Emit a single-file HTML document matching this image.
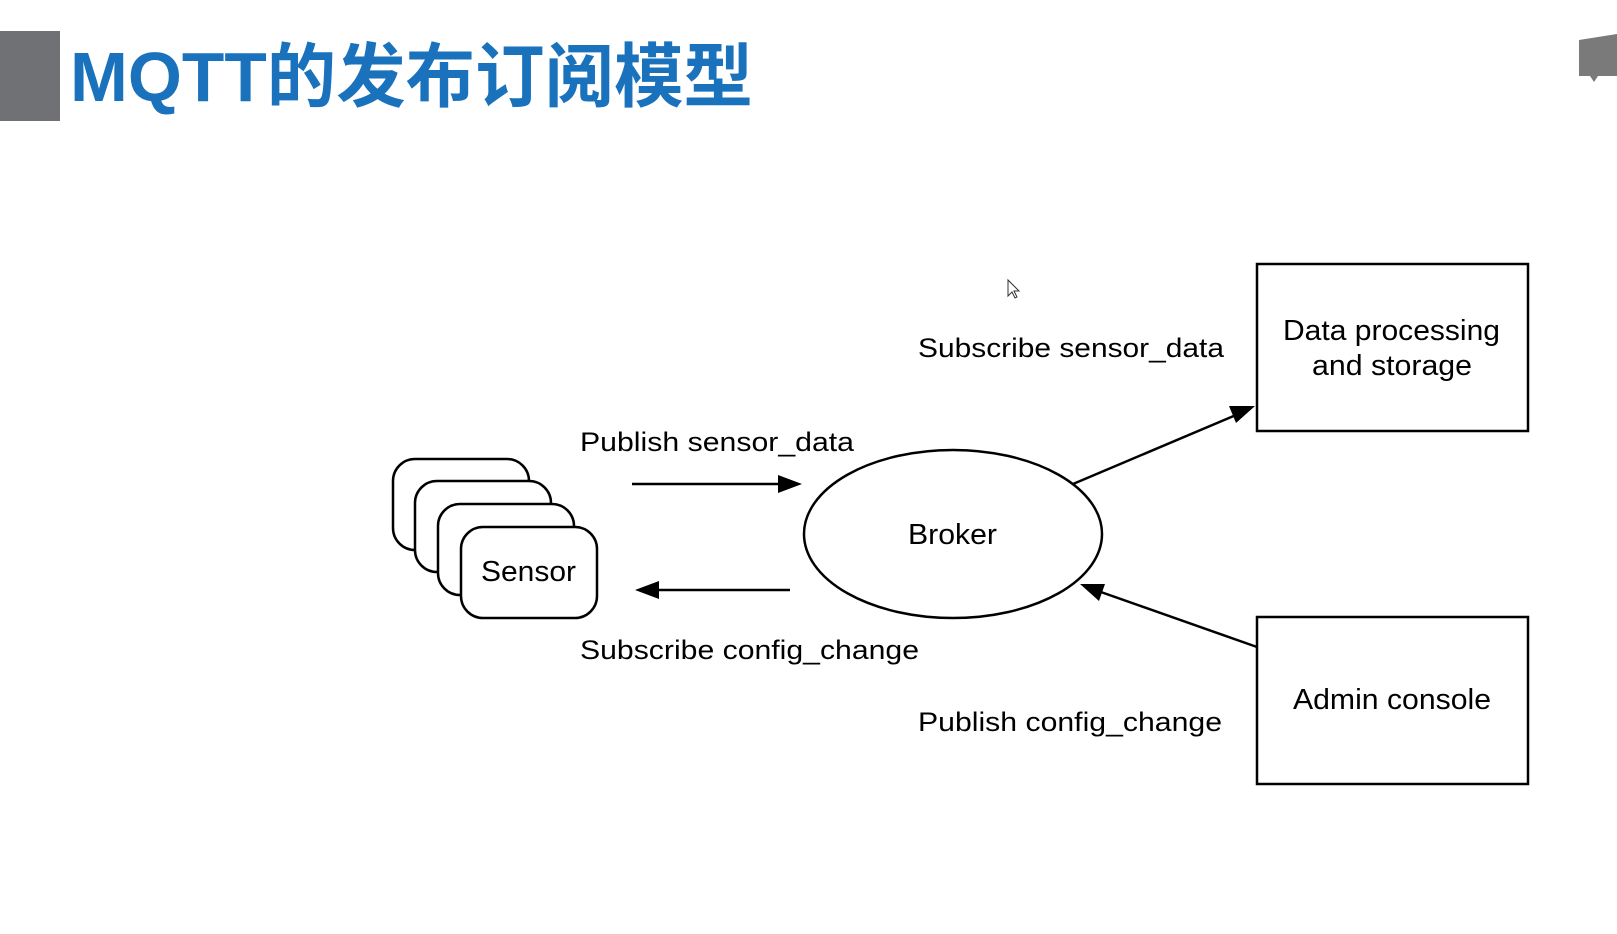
<!DOCTYPE html>
<html><head><meta charset="utf-8"><style>
html,body{margin:0;padding:0;background:#fff;width:1617px;height:934px;overflow:hidden}
</style></head><body>
<svg width="1617" height="934" viewBox="0 0 1617 934" xmlns="http://www.w3.org/2000/svg">
<rect x="0" y="31" width="60" height="90" fill="#6f7174"/>
<text x="70" y="101" font-family="Liberation Sans, Noto Sans CJK SC, sans-serif" font-weight="bold" font-size="70" fill="#1a72bd" textLength="683" lengthAdjust="spacingAndGlyphs">MQTT的发布订阅模型</text>
<path d="M1579 40 L1617 34 L1617 76 L1598 76 L1594 82 L1590 76 L1579 76 Z" fill="#7a7a7a"/>
<g fill="#fff" stroke="#000" stroke-width="2.5">
<rect x="393" y="459" width="136" height="91" rx="22"/>
<rect x="415" y="481" width="136" height="91" rx="22"/>
<rect x="438" y="504" width="136" height="91" rx="22"/>
<rect x="461" y="527" width="136" height="91" rx="22"/>
<ellipse cx="953" cy="534" rx="149" ry="84"/>
<rect x="1257" y="264" width="271" height="167"/>
<rect x="1257" y="617" width="271" height="167"/>
</g>
<g stroke="#000" stroke-width="2.5">
<line x1="632" y1="484" x2="782" y2="484"/>
<line x1="790" y1="590" x2="655" y2="590"/>
<line x1="1073" y1="484" x2="1236" y2="415"/>
<line x1="1257" y1="647" x2="1098" y2="591"/>
</g>
<g fill="#000">
<polygon points="802,484 778,475 778,493"/>
<polygon points="635,590 659,581 659,599"/>
<polygon points="1255,406 1229,406 1236,423"/>
<polygon points="1080,584 1099,601 1105,584"/>
</g>
<g font-family="Liberation Sans, Arial, sans-serif" font-size="27" fill="#000">
<text x="918" y="357" textLength="306" lengthAdjust="spacingAndGlyphs">Subscribe sensor_data</text>
<text x="580" y="451" textLength="274" lengthAdjust="spacingAndGlyphs">Publish sensor_data</text>
<text x="580" y="659" textLength="339" lengthAdjust="spacingAndGlyphs">Subscribe config_change</text>
<text x="918" y="731" textLength="304" lengthAdjust="spacingAndGlyphs">Publish config_change</text>
</g>
<g font-family="Liberation Sans, Arial, sans-serif" font-size="29" fill="#000">
<text x="908" y="544" textLength="89" lengthAdjust="spacingAndGlyphs">Broker</text>
<text x="481" y="581" textLength="95" lengthAdjust="spacingAndGlyphs">Sensor</text>
<text x="1283" y="340" textLength="217" lengthAdjust="spacingAndGlyphs">Data processing</text>
<text x="1312" y="375" textLength="160" lengthAdjust="spacingAndGlyphs">and storage</text>
<text x="1293" y="709" textLength="198" lengthAdjust="spacingAndGlyphs">Admin console</text>
</g>
<path d="M1008 280 L1008 296 L1012 292 L1015 298 L1017 297 L1014 291 L1019 291 Z" fill="#fff" stroke="#333" stroke-width="1"/>
</svg>
</body></html>
